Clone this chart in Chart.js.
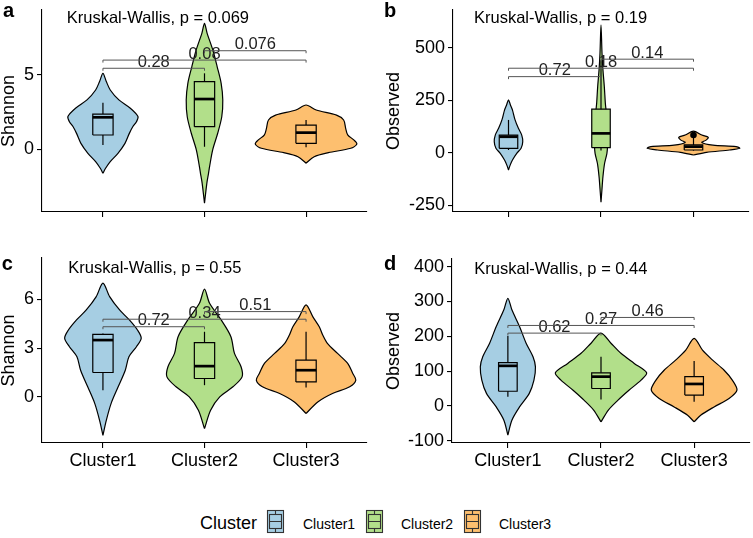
<!DOCTYPE html>
<html>
<head>
<meta charset="utf-8">
<script src="https://cdn.jsdelivr.net/npm/chart.js@4.4.1/dist/chart.umd.min.js"></script>
<style>
  body { margin: 0; background: #fff; font-family: "Liberation Sans", Arial, sans-serif; }
  #wrap { position: relative; width: 753px; height: 538px; overflow: hidden; background: #fff; }
  #wrap canvas { position: absolute; }
  .lg { position: absolute; white-space: nowrap; color: #000; }
</style>
</head>
<body>
<div id="wrap">
  <canvas id="chartA" width="370" height="225" style="left:0;top:0"></canvas>
  <canvas id="chartB" width="383" height="225" style="left:370px;top:0"></canvas>
  <canvas id="chartC" width="370" height="250" style="left:0;top:230px"></canvas>
  <canvas id="chartD" width="383" height="250" style="left:370px;top:230px"></canvas>
  <div id="legend"></div>
</div>
<script>
/* ---------- shared ---------- */
const clusters = ["Cluster1", "Cluster2", "Cluster3"];
const clusterColors = ["#A6CEE3", "#B2DF8A", "#FDBF6F"];
const bracketPairs = [[1, 2], [1, 3], [2, 3]];

/* ---------- panel a : Shannon ---------- */
const violinA_y = [
  [-1.61, -1.28, -0.83, -0.27, 0.40, 1.07, 1.53, 1.85, 2.20, 2.76, 3.32, 3.99, 4.56, 5.11],
  [-3.63, -2.29, -1.60, -1.17, -0.05, 1.08, 2.19, 3.32, 4.44, 5.55, 6.68, 7.80, 8.47],
  [-0.94, -0.50, -0.23, 0.07, 0.36, 0.63, 0.97, 1.41, 1.97, 2.30, 2.64, 2.98]
];
const violinA_w = [
  [0, 0.026, 0.072, 0.148, 0.217, 0.26, 0.295, 0.33, 0.345, 0.27, 0.157, 0.072, 0.033, 0],
  [0, 0.023, 0.04, 0.05, 0.08, 0.13, 0.17, 0.18, 0.164, 0.125, 0.082, 0.026, 0],
  [0, 0.08, 0.22, 0.44, 0.50, 0.47, 0.41, 0.39, 0.37, 0.30, 0.10, 0]
];
const boxA = [[0.29, 0.96, 2.15, 2.37, 3.13], [0.17, 1.52, 3.38, 4.55, 5.11], [0.13, 0.40, 1.12, 1.63, 1.97]];
const outliersA = [[], [], []];
const bracketA_y = [5.45, 6.0, 6.63];
const bracketA_p = ["0.28", "0.08", "0.076"];

/* ---------- panel b : Observed ---------- */
const violinB_y = [
  [-82, -59, -35, -3, 21, 52, 84, 116, 156, 203, 227, 251],
  [-235, -177, -114, -50, -3, 30, 100, 200, 235, 314, 394, 473, 608],
  [-11, 2, 13, 21, 29, 36, 49, 60, 73, 84, 103]
];
const violinB_w = [
  [0, 0.018, 0.043, 0.089, 0.136, 0.154, 0.143, 0.107, 0.071, 0.043, 0.021, 0],
  [0, 0.01, 0.021, 0.039, 0.064, 0.07, 0.07, 0.055, 0.047, 0.036, 0.021, 0.011, 0],
  [0, 0.14, 0.39, 0.5, 0.46, 0.21, 0.09, 0.136, 0.16, 0.09, 0]
];
const boxB = [[13, 21, 76, 84, 156], [10, 24, 92, 207, 440], [10, 13, 29, 37, 72]];
const outliersB = [[], [], [84]];
const bracketB_y = [362, 402, 445];
const bracketB_p = ["0.72", "0.18", "0.14"];

/* ---------- panel c : Shannon ---------- */
const violinC_y = [
  [-2.36, -1.44, -0.41, 0.62, 1.64, 2.46, 3.08, 3.6, 4.11, 4.73, 5.34, 6.16, 6.99],
  [-1.95, -0.82, 0, 0.62, 1.23, 1.85, 2.67, 3.7, 4.73, 5.75, 6.62],
  [-1.02, -0.31, 0.21, 0.62, 1.03, 1.44, 2.06, 2.67, 3.29, 3.8, 4.31, 4.93, 5.65]
];
const violinC_w = [
  [0, 0.033, 0.08, 0.15, 0.22, 0.256, 0.33, 0.377, 0.34, 0.26, 0.164, 0.066, 0],
  [0, 0.06, 0.15, 0.28, 0.37, 0.36, 0.295, 0.26, 0.164, 0.05, 0],
  [0, 0.115, 0.26, 0.43, 0.49, 0.46, 0.41, 0.31, 0.21, 0.164, 0.13, 0.066, 0]
];
const boxC = [[0.41, 1.5, 3.49, 3.84, 3.9], [0.72, 1.13, 1.89, 3.33, 4.0], [0.58, 0.92, 1.64, 2.26, 4.0]];
const outliersC = [[], [], []];
const bracketC_y = [4.31, 4.77, 5.24];
const bracketC_p = ["0.72", "0.34", "0.51"];

/* ---------- panel d : Observed ---------- */
const violinD_y = [
  [-84, -41, -3, 36, 74, 112, 141, 180, 228, 276, 309],
  [-46, -12, 16, 45, 74, 95, 122, 151, 180, 209],
  [-46, -27, -3, 21, 45, 74, 103, 132, 160, 194]
];
const violinD_w = [
  [0, 0.043, 0.125, 0.23, 0.28, 0.296, 0.27, 0.196, 0.125, 0.043, 0],
  [0, 0.079, 0.18, 0.30, 0.43, 0.49, 0.357, 0.214, 0.107, 0],
  [0, 0.07, 0.214, 0.375, 0.46, 0.41, 0.32, 0.196, 0.09, 0]
];
const boxD = [[26, 42, 115, 124, 201], [18, 50, 84, 95, 141], [12, 31, 63, 84, 129]];
const outliersD = [[], [], []];
const bracketD_y = [209, 231, 254];
const bracketD_p = ["0.62", "0.27", "0.46"];

const kwLabels = ["Kruskal-Wallis, p = 0.069", "Kruskal-Wallis, p = 0.19",
                  "Kruskal-Wallis, p = 0.55", "Kruskal-Wallis, p = 0.44"];

/* ---------- drawing ---------- */
Chart.defaults.font.family = '"Liberation Sans", Arial, Helvetica, sans-serif';
Chart.defaults.color = "#000";

const BOX_HALF = 0.1;
const FONT = '"Liberation Sans", Arial, sans-serif';

function annotatePlugin(p) {
  return {
    id: "annotate",
    afterDatasetsDraw(chart) {
      const { ctx, chartArea } = chart;
      const x = chart.scales.x, y = chart.scales.y;
      ctx.save();
      p.bracketY.forEach((by, i) => {
        const [g1, g2] = bracketPairs[i];
        const x1 = x.getPixelForValue(g1), x2 = x.getPixelForValue(g2);
        const py = y.getPixelForValue(by);
        ctx.strokeStyle = "#555";
        ctx.lineWidth = 1;
        ctx.beginPath();
        ctx.moveTo(x1, py + 2.5);
        ctx.lineTo(x1, py);
        ctx.lineTo(x2, py);
        ctx.lineTo(x2, py + 2.5);
        ctx.stroke();
        ctx.fillStyle = "#222";
        ctx.font = "16.5px " + FONT;
        ctx.textAlign = "center";
        ctx.textBaseline = "alphabetic";
        ctx.fillText(p.bracketP[i], (x1 + x2) / 2, py - 1.5);
      });
      ctx.fillStyle = "#000";
      ctx.font = "16.5px " + FONT;
      ctx.textAlign = "left";
      ctx.textBaseline = "alphabetic";
      ctx.fillText(p.kw, chartArea.left + p.kwDx, chartArea.top + p.kwDy);
      ctx.font = "bold 20px " + FONT;
      ctx.fillText(p.tag, p.tagX, p.tagY);
      ctx.restore();
    }
  };
}

function makePanel(id, p) {
  const datasets = [];
  p.violinY.forEach((ys, i) => {
    const c = i + 1;
    const ws = p.violinW[i];
    const right = ys.map((v, k) => ({ x: c + ws[k], y: v }));
    const left = ys.slice(1, -1).map((v, k) => ({ x: c - ws[k + 1], y: v })).reverse();
    datasets.push({
      data: right.concat(left, [right[0]]),
      showLine: true, fill: "shape", tension: 0.3,
      backgroundColor: clusterColors[i], borderColor: "#000", borderWidth: 1.2,
      pointRadius: 0, order: 5
    });
    const b = p.box[i];
    datasets.push({
      data: [{ x: c, y: b[0] }, { x: c, y: b[4] }],
      showLine: true, borderColor: "#000", borderWidth: 1.2, pointRadius: 0, order: 4
    });
    datasets.push({
      data: [
        { x: c - BOX_HALF, y: b[1] }, { x: c + BOX_HALF, y: b[1] },
        { x: c + BOX_HALF, y: b[3] }, { x: c - BOX_HALF, y: b[3] },
        { x: c - BOX_HALF, y: b[1] }
      ],
      showLine: true, fill: "shape", tension: 0,
      backgroundColor: clusterColors[i], borderColor: "#000", borderWidth: 1.2,
      pointRadius: 0, order: 3
    });
    datasets.push({
      data: [{ x: c - BOX_HALF, y: b[2] }, { x: c + BOX_HALF, y: b[2] }],
      showLine: true, borderColor: "#000", borderWidth: 2.7, pointRadius: 0, order: 2
    });
    if (p.outliers[i].length) {
      datasets.push({
        data: p.outliers[i].map(v => ({ x: c, y: v })),
        showLine: false, pointRadius: 3.3, pointBackgroundColor: "#000",
        pointBorderWidth: 0, order: 1
      });
    }
  });

  new Chart(document.getElementById(id), {
    type: "scatter",
    data: { datasets },
    options: {
      responsive: false,
      animation: false,
      events: [],
      layout: { padding: { top: p.padTop, right: p.padRight, left: 0, bottom: 0 } },
      elements: { line: { borderCapStyle: "butt", borderJoinStyle: "miter" } },
      plugins: { legend: { display: false }, tooltip: { enabled: false } },
      scales: {
        x: {
          type: "linear", min: 0.4, max: 3.6,
          afterBuildTicks: s => { s.ticks = [1, 2, 3].map(v => ({ value: v })); },
          afterFit: s => {
            s.height = p.xh;
            s.paddingLeft = 0; s.paddingRight = 0; s.paddingTop = 0; s.paddingBottom = 0;
          },
          grid: { display: true, drawOnChartArea: false, drawTicks: true, tickLength: 5, color: "#000", lineWidth: 1.1 },
          border: { display: true, color: "#000", width: 1.1 },
          ticks: {
            callback: v => (p.showX ? clusters[v - 1] : ""),
            color: "#000", font: { size: 18 }, padding: 2, maxRotation: 0, autoSkip: false
          }
        },
        y: {
          type: "linear", min: p.yMin, max: p.yMax,
          afterBuildTicks: s => { s.ticks = p.yTicks.map(v => ({ value: v })); },
          afterFit: s => {
            s.width = p.yw;
            s.paddingLeft = 0; s.paddingRight = 0; s.paddingTop = 0; s.paddingBottom = 0;
          },
          grid: { display: true, drawOnChartArea: false, drawTicks: true, tickLength: 5, color: "#000", lineWidth: 1.1 },
          border: { display: true, color: "#000", width: 1.1 },
          ticks: { color: "#000", font: { size: 18 }, padding: 3 },
          title: {
            display: true, text: p.yTitle, color: "#000",
            font: { size: 18, lineHeight: 1 }, padding: { top: p.titlePad, bottom: 0 }
          }
        }
      }
    },
    plugins: [annotatePlugin(p)]
  });
}

makePanel("chartA", {
  violinY: violinA_y, violinW: violinA_w, box: boxA, outliers: outliersA,
  bracketY: bracketA_y, bracketP: bracketA_p, kw: kwLabels[0],
  yMin: -4.22, yMax: 9.37, yTicks: [0, 5], yTitle: "Shannon", showX: false,
  padTop: 10, padRight: 3, yw: 42, xh: 13, titlePad: 0,
  kwDx: 24.7, kwDy: 12.7, tag: "a", tagX: 3, tagY: 17.3
});
makePanel("chartB", {
  violinY: violinB_y, violinW: violinB_w, box: boxB, outliers: outliersB,
  bracketY: bracketB_y, bracketP: bracketB_p, kw: kwLabels[1],
  yMin: -282, yMax: 679, yTicks: [-250, 0, 250, 500], yTitle: "Observed", showX: false,
  padTop: 10, padRight: 3, yw: 83, xh: 13, titlePad: 15,
  kwDx: 21, kwDy: 12.7, tag: "b", tagX: 14, tagY: 17.3
});
makePanel("chartC", {
  violinY: violinC_y, violinW: violinC_w, box: boxC, outliers: outliersC,
  bracketY: bracketC_y, bracketP: bracketC_p, kw: kwLabels[2],
  yMin: -2.83, yMax: 8.53, yTicks: [0, 3, 6], yTitle: "Shannon", showX: true,
  padTop: 28, padRight: 3, yw: 42, xh: 37, titlePad: 0,
  kwDx: 26.3, kwDy: 15, tag: "c", tagX: 1.7, tagY: 40
});
makePanel("chartD", {
  violinY: violinD_y, violinW: violinD_w, box: boxD, outliers: outliersD,
  bracketY: bracketD_y, bracketP: bracketD_p, kw: kwLabels[3],
  yMin: -106.6, yMax: 421.9, yTicks: [-100, 0, 100, 200, 300, 400], yTitle: "Observed", showX: true,
  padTop: 29, padRight: 3, yw: 82, xh: 37, titlePad: 15,
  kwDx: 22.3, kwDy: 15, tag: "d", tagX: 14, tagY: 40
});

/* ---------- legend ---------- */
const legend = document.getElementById("legend");
const legTitle = document.createElement("span");
legTitle.className = "lg";
legTitle.textContent = "Cluster";
legTitle.style.cssText = "left:200px;top:514px;font-size:18px;line-height:18px";
legend.appendChild(legTitle);

const keyX = [267, 365.5, 464];
const labelX = [303, 401, 499];
clusters.forEach((name, i) => {
  const cv = document.createElement("canvas");
  cv.width = 19; cv.height = 25;
  cv.style.left = (keyX[i] - 1) + "px";
  cv.style.top = "509px";
  const g = cv.getContext("2d");
  g.fillStyle = clusterColors[i];
  g.strokeStyle = "#333";
  g.lineWidth = 1.1;
  g.fillRect(1.5, 1.5, 16, 22);
  g.strokeRect(1.5, 1.5, 16, 22);
  g.strokeRect(3.5, 5.5, 12, 14);
  g.beginPath();
  g.moveTo(3.5, 12.5); g.lineTo(15.5, 12.5);
  g.moveTo(9.5, 1.5); g.lineTo(9.5, 5.5);
  g.moveTo(9.5, 19.5); g.lineTo(9.5, 23.5);
  g.stroke();
  document.getElementById("wrap").appendChild(cv);

  const lab = document.createElement("span");
  lab.className = "lg";
  lab.textContent = name;
  lab.style.cssText = `left:${labelX[i]}px;top:517px;font-size:14px;line-height:14px`;
  legend.appendChild(lab);
});
</script>
</body>
</html>
